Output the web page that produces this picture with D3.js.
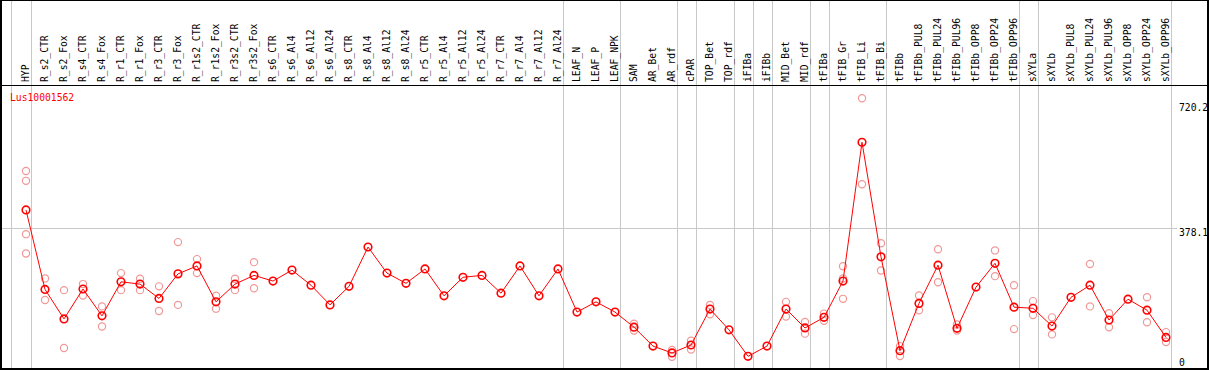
<!DOCTYPE html>
<html>
<head>
<meta charset="utf-8">
<script src="https://cdn.jsdelivr.net/npm/d3@7"></script>
<style>
  body { margin: 0; background: #fff; }
  text { font-family: "DejaVu Sans Mono", monospace; font-size: 9.7px; }
</style>
</head>
<body>
<div id="chart"></div>
<script>
var gene = "Lus10001562";

var samples = ["HYP", "R_s2_CTR", "R_s2_Fox", "R_s4_CTR", "R_s4_Fox", "R_r1_CTR", "R_r1_Fox",
    "R_r3_CTR", "R_r3_Fox", "R_r1s2_CTR", "R_r1s2_Fox", "R_r3s2_CTR", "R_r3s2_Fox",
    "R_s6_CTR", "R_s6_Al4", "R_s6_Al12", "R_s6_Al24", "R_s8_CTR", "R_s8_Al4", "R_s8_Al12", "R_s8_Al24",
    "R_r5_CTR", "R_r5_Al4", "R_r5_Al12", "R_r5_Al24", "R_r7_CTR", "R_r7_Al4", "R_r7_Al12", "R_r7_Al24",
    "LEAF_N", "LEAF_P", "LEAF_NPK", "SAM", "AR_Bet", "AR_rdf", "cPAR", "TOP_Bet", "TOP_rdf",
    "iFIBa", "iFIBb", "MID_Bet", "MID_rdf", "tFIBa", "tFIB_Gr", "tFIB_Li", "tFIB_Bi",
    "tFIBb", "tFIBb_PUL8", "tFIBb_PUL24", "tFIBb_PUL96", "tFIBb_OPP8", "tFIBb_OPP24", "tFIBb_OPP96",
    "sXYLa", "sXYLb", "sXYLb_PUL8", "sXYLb_PUL24", "sXYLb_PUL96", "sXYLb_OPP8", "sXYLb_OPP24", "sXYLb_OPP96"];

// mean expression per sample
var means = [425, 215, 137, 216, 145, 235, 229, 191, 256, 277, 182, 229, 252,
    237, 266, 226, 174, 223, 327, 258, 231, 269, 198, 247, 252, 205, 277, 198, 269,
    155, 182, 155, 115, 65, 47, 68, 163, 108, 38, 65, 163, 113, 141, 237, 604, 301,
    53, 178, 279, 112, 221, 284, 168, 165, 118, 194, 226, 134, 189, 160, 88];

// replicate values (empty where they sit under the mean)
var reps = [[528, 502, 361, 310], [244, 187], [213, 60], [229, 199], [170, 117], [258, 213], [243, 213],
    [223, 158], [340, 174], [295, 258], [198, 164], [243, 213], [287, 218],
    [], [], [], [], [], [], [], [], [], [], [], [], [], [], [], [],
    [], [], [], [124, 106], [], [55, 37], [79, 56], [174, 149], [], [], [], [182, 143], [129, 98],
    [151, 132], [276, 244, 190], [720.2, 493], [337, 265],
    [65, 39], [199, 160], [321, 234], [122, 106], [], [318, 250], [226, 110],
    [184, 147], [141, 96], [], [282, 170], [152, 115], [], [194, 128], [102, 76]];

var yTicks = [720.2, 378.1, 0];

// last sample of each group, a grey rule follows it
var groupEnds = ["HYP", "R_r7_Al24", "LEAF_NPK", "AR_rdf", "cPAR", "TOP_rdf", "iFIBa", "iFIBb",
    "MID_rdf", "tFIBa", "tFIB_Bi", "tFIBb_OPP96", "sXYLa", "sXYLb_OPP96"];

var width = 1209, height = 370;

var svg = d3.select("#chart").append("svg")
    .attr("width", width)
    .attr("height", height);

var x = d3.scalePoint().domain(samples).range([26, 1166]);
var y = d3.scaleLinear().domain([0, 720.2]).range([370.7, 98.3]);

// vertical rules
var rules = [x(samples[0]) - 15.3].concat(groupEnds.map(function (s) { return x(s) + 4.7; }));
svg.append("g").selectAll("line")
    .data(rules)
    .enter().append("line")
        .attr("x1", function (d) { return Math.round(d) + 0.5; })
        .attr("x2", function (d) { return Math.round(d) + 0.5; })
        .attr("y1", 0)
        .attr("y2", height)
        .attr("stroke", "#c8c8c8")
        .attr("stroke-width", 1);

// middle horizontal rule
svg.append("line")
    .attr("x1", 0).attr("x2", 1177)
    .attr("y1", Math.round(y(yTicks[1])) + 0.5)
    .attr("y2", Math.round(y(yTicks[1])) + 0.5)
    .attr("stroke", "#c8c8c8");

// header labels
svg.append("g").selectAll("text")
    .data(samples)
    .enter().append("text")
        .attr("transform", function (d) { return "translate(" + (x(d) + 3.3) + ",82) rotate(-90)"; })
        .attr("fill", "#000")
        .text(function (d) { return d; });

// right value labels
var yOff = [12.5, 8.5, -5];
svg.append("g").selectAll("text")
    .data(yTicks)
    .enter().append("text")
        .attr("x", 1179)
        .attr("y", function (d, i) { return y(d) + yOff[i]; })
        .attr("fill", "#000")
        .text(function (d) { return d; });

// replicate circles
var repPts = [];
reps.forEach(function (r, i) {
    r.forEach(function (v) { repPts.push({ s: samples[i], v: v }); });
});
svg.append("g").selectAll("circle")
    .data(repPts)
    .enter().append("circle")
        .attr("cx", function (d) { return x(d.s); })
        .attr("cy", function (d) { return y(d.v); })
        .attr("r", 3.6)
        .attr("fill", "none")
        .attr("stroke", "#f09898")
        .attr("stroke-width", 1.2);

// mean line
var line = d3.line()
    .x(function (d, i) { return x(samples[i]); })
    .y(function (d) { return y(d); });

svg.append("path")
    .datum(means)
    .attr("d", line)
    .attr("fill", "none")
    .attr("stroke", "#ff0000")
    .attr("stroke-width", 1);

svg.append("g").selectAll("circle")
    .data(means)
    .enter().append("circle")
        .attr("cx", function (d, i) { return x(samples[i]); })
        .attr("cy", function (d) { return y(d); })
        .attr("r", 3.8)
        .attr("fill", "none")
        .attr("stroke", "#ff0000")
        .attr("stroke-width", 1.6);

// gene name
svg.append("text")
    .attr("x", 10)
    .attr("y", 101)
    .attr("fill", "#ff0000")
    .text(gene);

// frame
svg.append("line").attr("x1", 0).attr("x2", width).attr("y1", 0.5).attr("y2", 0.5).attr("stroke", "#000");
svg.append("line").attr("x1", 0).attr("x2", width).attr("y1", 85.5).attr("y2", 85.5).attr("stroke", "#000");
svg.append("line").attr("x1", 1).attr("x2", 1).attr("y1", 0).attr("y2", height).attr("stroke", "#000").attr("stroke-width", 2);
svg.append("line").attr("x1", 0).attr("x2", width).attr("y1", 369).attr("y2", 369).attr("stroke", "#000").attr("stroke-width", 2);
svg.append("line").attr("x1", 1208).attr("x2", 1208).attr("y1", 0).attr("y2", height).attr("stroke", "#000").attr("stroke-width", 2);
</script>
</body>
</html>
